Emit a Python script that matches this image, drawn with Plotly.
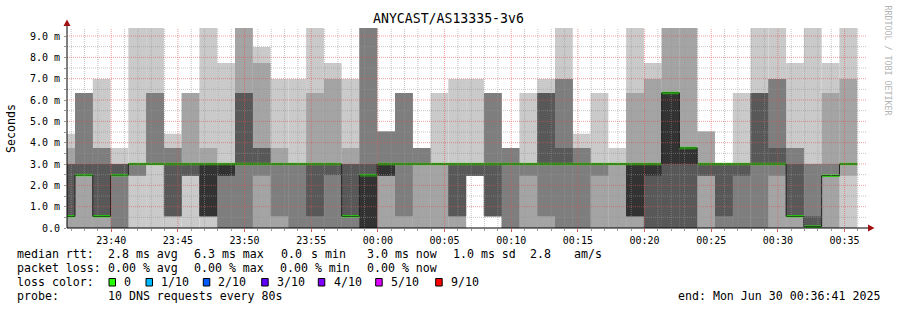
import numpy as np
import pandas as pd
import plotly.graph_objects as go

MONO = "DejaVu Sans Mono"

chart_title = "ANYCAST/AS13335-3v6"
y_label = "Seconds"
step_seconds = 80
first_step_end = "2025-06-29 23:37:17"
view_start = "2025-06-29 23:36:41"
view_end = "2025-06-30 00:36:41"

# sorted round-trip times (ms) of the 10 DNS requests in every 80 s step
p1 = [0, 0, 0, 0, 0, 0, 0, 0, 0, 0, 0, 0, 0, 0, 0, 0, 0, 0, 0, 0, 0, 0, 0, 2.45, 0.55,
      0, 0, 0, 0, 0, 0, 0, 0, 0, 0, 0, 0, 0, 0, 0, 0, 0, 0.06, 0, 0]
p2 = [0, 0, 0, 0, 2.45, 3.0, 0.55, 2.45, 0.55, 0, 0, 0, 0, 0, 0, 0, 0, 0, 0, 0, 0, 0, 0, 2.45, 0.55,
      0, 0, 0, 0, 0, 0, 0, 0, 0, 0, 0, 0, 0, 0, 0, 0, 0, 0.06, 0, 2.45]
p3 = [0.55, 2.48, 0.55, 0, 2.45, 3.0, 0.55, 2.45, 0.55, 0, 0, 2.45, 0.55, 0, 0, 0, 0, 0, 2.45, 0.55, 3.0, 3.0, 0.55, 2.45, 0.55,
      0, 2.45, 0.55, 0, 0, 2.45, 3.0, 0.55, 0, 0, 0, 2.45, 0, 0, 0, 2.45, 0.55, 0.06, 2.45, 3.0]
p4 = [0.55, 2.48, 0.55, 2.48, 3.0, 3.0, 0.55, 2.45, 0.55, 2.45, 3.0, 3.0, 3.0, 3.0, 0.55, 2.48, 0.55, 0, 2.45, 3.0, 3.0, 3.0, 0.55, 2.45, 0.55,
      3.0, 3.0, 3.0, 3.0, 3.0, 3.0, 3.0, 0.55, 0, 0, 0, 2.45, 0.55, 2.45, 3.0, 3.0, 0.55, 0.06, 2.45, 3.0]
p5 = [0.55, 2.48, 0.55, 2.48, 3.0, 3.0, 3.0, 3.0, 0.55, 2.45, 3.0, 3.0, 3.0, 3.0, 3.0, 3.0, 0.55, 0, 2.45, 3.0, 3.0, 3.0, 3.0, 3.0, 3.0,
      3.0, 3.0, 3.0, 3.0, 3.0, 3.0, 3.0, 0.55, 2.45, 3.0, 3.0, 3.0, 3.0, 3.0, 3.0, 3.0, 0.55, 0.06, 2.45, 3.0]
p6 = [0.55, 2.48, 0.55, 2.48, 3.0, 3.0, 3.0, 3.0, 3.0, 3.0, 3.0, 3.0, 3.0, 3.0, 3.0, 3.0, 0.55, 2.48, 3.0, 3.0, 3.0, 3.0, 3.0, 3.0, 3.0,
      3.0, 3.0, 3.0, 3.0, 3.0, 3.0, 3.0, 3.0, 3.0, 6.33, 3.75, 3.0, 3.0, 3.0, 3.0, 3.0, 0.55, 0.06, 2.45, 3.0]
p7 = [3.0, 3.0, 3.0, 3.0, 3.0, 3.0, 3.0, 3.0, 3.0, 3.0, 6.33, 3.75, 3.0, 3.0, 3.0, 3.0, 3.0, 3.0, 3.0, 3.0, 3.0, 3.0, 3.0, 3.0, 3.0,
      3.0, 3.0, 6.33, 3.75, 3.0, 3.0, 3.0, 3.0, 3.0, 6.33, 3.75, 3.0, 3.0, 3.0, 6.33, 3.75, 3.0, 0.55, 2.45, 3.0]
p8 = [3.0, 6.33, 3.75, 3.0, 3.0, 6.33, 3.75, 3.0, 3.0, 3.0, 6.33, 3.75, 3.0, 3.0, 3.0, 3.0, 3.0, 9.375, 4.52, 6.33, 3.75, 3.0, 3.0, 3.0, 6.33,
      3.75, 3.0, 6.33, 6.98, 3.75, 3.0, 3.0, 3.0, 3.0, 6.33, 3.75, 3.0, 3.0, 3.0, 6.33, 6.98, 3.75, 3.0, 3.0, 3.0]
p9 = [3.75, 6.33, 3.75, 3.0, 3.0, 6.33, 3.75, 6.33, 3.75, 3.0, 9.375, 7.73, 3.75, 3.0, 6.33, 6.98, 3.75, 9.375, 4.52, 6.33, 3.75, 3.0, 3.0, 3.0, 6.33,
      3.75, 3.0, 6.33, 6.98, 3.75, 3.0, 3.0, 6.33, 6.98, 9.375, 9.375, 4.52, 3.0, 3.0, 6.33, 6.98, 3.75, 3.0, 6.33, 6.98]
p10 = [4.42, 6.33, 6.98, 3.75, 9.375, 9.375, 4.42, 6.33, 9.375, 7.73, 9.375, 8.48, 6.98, 6.98, 9.375, 7.73, 6.98, 9.375, 4.52, 6.33, 3.75, 6.33, 6.98, 6.98, 6.33,
       3.75, 6.33, 6.98, 9.375, 4.42, 6.33, 3.75, 9.375, 7.73, 9.375, 9.375, 4.52, 3.0, 6.33, 9.375, 9.375, 7.73, 9.375, 7.73, 9.375]
median_ms = [0.55, 2.48, 0.55, 2.48, 3.0, 3.0, 3.0, 3.0, 3.0, 3.0, 3.0, 3.0, 3.0, 3.0, 3.0, 3.0, 0.55, 2.48, 3.0, 3.0, 3.0, 3.0, 3.0, 3.0, 3.0,
             3.0, 3.0, 3.0, 3.0, 3.0, 3.0, 3.0, 3.0, 3.0, 6.33, 3.75, 3.0, 3.0, 3.0, 3.0, 3.0, 0.55, 0.06, 2.45, 3.0]
loss_count = [0] * 45

y_max = 9.375
ytick_values = [0, 1, 2, 3, 4, 5, 6, 7, 8, 9]
ytick_labels = ["0.0", "1.0 m", "2.0 m", "3.0 m", "4.0 m", "5.0 m", "6.0 m", "7.0 m", "8.0 m", "9.0 m"]
loss_labels = ["0", "1/10", "2/10", "3/10", "4/10", "5/10", "9/10"]
loss_colors = ["#26ff00", "#00b8ff", "#0059ff", "#5e00ff", "#7e00ff", "#dd00ff", "#ff0000"]
smoke_shades = ["#cacaca", "#a4a4a4", "#7e7e7e", "#585858", "#323232"]

# ---------------------------------------------------------------- layout geometry
W, H = 897, 310
L, T, PW, PH = 67, 28, 800, 200
B = T + PH


def px(x):
    return (x - L) / PW


def py(y):
    return (B - y) / PH


pings = [np.array(p, dtype=float) for p in (p1, p2, p3, p4, p5, p6, p7, p8, p9, p10)]
n = len(p1)
step = pd.Timedelta(seconds=step_seconds)
ends = pd.Timestamp(first_step_end) + step * np.arange(n)
centers = ends - step / 2
edges = list(ends - step) + [ends[-1]]
step_ms = step_seconds * 1000

fig = go.Figure()

for i in range(5):
    lo = pings[i]
    hi = pings[9 - i]
    fig.add_trace(go.Bar(x=centers, y=hi - lo, base=lo, width=step_ms,
                         marker=dict(color=smoke_shades[i], line=dict(width=0)),
                         hoverinfo="skip"))

med = np.array(median_ms, dtype=float)
fig.add_trace(go.Scatter(x=edges, y=list(med) + [med[-1]], mode="lines",
                         line=dict(color="#202020", width=1, shape="hv"), hoverinfo="skip"))
half = 0.055
fig.add_trace(go.Bar(x=centers, y=[2 * half] * n, base=med - half, width=step_ms,
                     marker=dict(color=[loss_colors[min(c, 6)] for c in loss_count], line=dict(width=0)),
                     hoverinfo="skip"))

# grid (drawn on top, as rrdtool does)
t0, t1 = pd.Timestamp(view_start), pd.Timestamp(view_end)
minutes = pd.date_range(t0.ceil("min"), t1, freq="min")
minor_x, minor_y, major_x, major_y = [], [], [], []
for m in minutes:
    if m.minute % 5 == 0:
        major_x += [m, m, None]; major_y += [0, y_max, None]
    else:
        minor_x += [m, m, None]; minor_y += [0, y_max, None]
for k in range(1, 19):
    v = k * 0.5
    if k % 2 == 0:
        major_x += [t0, t1, None]; major_y += [v, v, None]
    else:
        minor_x += [t0, t1, None]; minor_y += [v, v, None]
fig.add_trace(go.Scatter(x=minor_x, y=minor_y, mode="lines", hoverinfo="skip",
                         line=dict(color="rgba(150,150,150,0.55)", width=1, dash="1px,1px")))
fig.add_trace(go.Scatter(x=major_x, y=major_y, mode="lines", hoverinfo="skip",
                         line=dict(color="rgba(230,80,80,0.55)", width=1, dash="1px,1px")))

fig.update_layout(
    width=W, height=H, margin=dict(l=L, r=W - L - PW, t=T, b=H - B, pad=0),
    paper_bgcolor="white", plot_bgcolor="white", showlegend=False, barmode="overlay",
    font=dict(family=MONO, color="#000"),
    xaxis=dict(type="date", range=[t0, t1], tickformat="%H:%M", dtick=300000,
               tick0="2025-06-29 23:40:00", showgrid=False, zeroline=False, showline=False,
               ticks="outside", ticklen=3, tickcolor="#d06060", tickwidth=1,
               tickfont=dict(family=MONO, size=10, color="#000"),
               minor=dict(ticks="outside", ticklen=2, dtick=60000, tick0="2025-06-29 23:40:00",
                          tickcolor="#999999", showgrid=False)),
    yaxis=dict(range=[0, y_max], tickvals=ytick_values, ticktext=ytick_labels,
               showgrid=False, zeroline=False, showline=False,
               ticks="outside", ticklen=2, tickcolor="#999999", ticklabelstandoff=2,
               tickfont=dict(family=MONO, size=10, color="#000"),
               minor=dict(ticks="outside", ticklen=2, dtick=0.5, tickcolor="#999999", showgrid=False)),
)

# axes lines with arrows
axis_red = "#a01010"
fig.add_shape(type="line", xref="paper", yref="paper", x0=0, y0=0, x1=0, y1=py(23),
              line=dict(color="black", width=1), layer="above")
fig.add_shape(type="line", xref="paper", yref="paper", x0=0, y0=0, x1=px(870), y1=0,
              line=dict(color="black", width=1), layer="above")
fig.add_shape(type="path", xref="paper", yref="paper", layer="above",
              path=f"M {px(63.5)},{py(26)} L {px(70.5)},{py(26)} L {px(67)},{py(19.5)} Z",
              fillcolor=axis_red, line=dict(width=0))
fig.add_shape(type="path", xref="paper", yref="paper", layer="above",
              path=f"M {px(868)},{py(224.5)} L {px(868)},{py(231.5)} L {px(874.5)},{py(228)} Z",
              fillcolor=axis_red, line=dict(width=0))


def ann(text, x, y, size=11.6, color="#000", xanchor="left", angle=0):
    fig.add_annotation(text=text, x=px(x), y=py(y), xref="paper", yref="paper",
                       xanchor=xanchor, yanchor="middle", showarrow=False, borderpad=0,
                       textangle=angle, font=dict(family=MONO, size=size, color=color))


ann(chart_title, 448, 18.5, size=13.2, xanchor="center")
ann(y_label, 11, 128, angle=-90, xanchor="center")
ann("RRDTOOL / TOBI OETIKER", 887.5, 60, size=8.3, color="#b4b4b4", xanchor="center", angle=90)

legend_rows = [
    (254.2, [("median rtt:", 16), ("2.8 ms avg", 107.3), ("6.3 ms max", 192.7), ("0.0", 280.3),
             ("s min", 310), ("3.0 ms now", 365.7), ("1.0 ms sd", 451.7), ("2.8", 529.3), ("am/s", 573.3)]),
    (267.8, [("packet loss:", 16), ("0.00 % avg", 107.3), ("0.00 % max", 193.3), ("0.00 % min", 279.3),
             ("0.00 % now", 365.7)]),
    (295.5, [("probe:", 16), ("10 DNS requests every 80s", 107.3)]),
]
for yy, segs in legend_rows:
    for txt, xx in segs:
        ann(txt, xx, yy)
ann("loss color:", 16, 282.2)
box_x = [109, 146, 203.3, 261.7, 318.3, 375.7, 435.7]
lab_x = [123.3, 160.3, 217.3, 276, 332.7, 390, 450]
for lbl, col, bx, lx in zip(loss_labels, loss_colors, box_x, lab_x):
    fig.add_shape(type="rect", xref="paper", yref="paper", x0=px(bx), x1=px(bx + 6.5),
                  y0=py(286), y1=py(278.5), fillcolor=col, line=dict(color="black", width=1))
    ann(lbl, lx, 282.2)
ann("end: Mon Jun 30 00:36:41 2025", 880.5, 295.5, xanchor="right")

fig.write_html("out.html")
